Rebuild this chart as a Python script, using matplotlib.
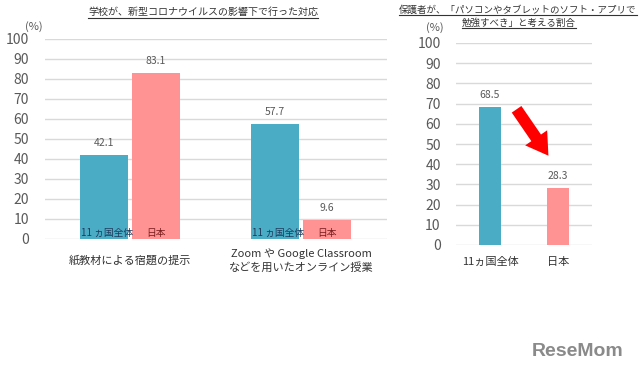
import matplotlib
matplotlib.use("Agg")
import matplotlib.pyplot as plt
from matplotlib.lines import Line2D
from matplotlib.patches import FancyArrowPatch

plt.rcParams['font.family'] = ['Noto Sans CJK JP', 'DejaVu Sans']

# ---- data ----
left_title = "学校が、新型コロナウイルスの影響下で行った対応"
left_categories = ["紙教材による宿題の提示", "Zoom や Google Classroom\nなどを用いたオンライン授業"]
left_all = [42.1, 57.7]
left_japan = [83.1, 9.6]
left_series_names = ["11 ヵ国全体", "日本"]

right_title_lines = ["保護者が、「パソコンやタブレットのソフト・アプリで", "勉強すべき」と考える割合"]
right_categories = ["11ヵ国全体", "日本"]
right_values = [68.5, 28.3]

yticks = [0, 10, 20, 30, 40, 50, 60, 70, 80, 90, 100]

BLUE = "#4BACC6"
PINK = "#FF9393"
GRID = "#D9D9D9"
TICK = "#595959"

W, H = 640, 375
fig = plt.figure(figsize=(6.4, 3.75), dpi=100)
fig.patch.set_facecolor("white")


def px_axes(x0, x1, y_bottom, y_top):
    return fig.add_axes([x0 / W, (H - y_bottom) / H, (x1 - x0) / W, (y_bottom - y_top) / H])


def style(ax, pad):
    ax.set_ylim(0, 100)
    ax.set_yticks(yticks)
    ax.tick_params(axis='y', length=0, labelsize=10, labelcolor=TICK, pad=pad)
    ax.tick_params(axis='x', length=0)
    for s in ax.spines.values():
        s.set_visible(False)
    ax.grid(axis='y', color=GRID, linewidth=1)
    ax.set_axisbelow(True)
    ax.set_xlim(-0.5, 1.5)


# ---- left chart ----
axL = px_axes(44.5, 386.5, 239, 39)
style(axL, 11)
bw = 0.28
off = 0.152
xs = list(range(len(left_categories)))
axL.bar([x - off for x in xs], left_all, width=bw, color=BLUE)
axL.bar([x + off for x in xs], left_japan, width=bw, color=PINK)
for x, v in zip(xs, left_all):
    axL.text(x - off, v + 3.5, f"{v}", ha='center', va='bottom', fontsize=7.5, color=TICK)
    axL.text(x - off - bw / 2 + 0.005, 3, left_series_names[0], ha='left', va='center',
             fontsize=7, color="#1F3B5C")
for x, v in zip(xs, left_japan):
    axL.text(x + off, v + 3.5, f"{v}", ha='center', va='bottom', fontsize=7.5, color=TICK)
    axL.text(x + off, 3, left_series_names[1], ha='center', va='center',
             fontsize=7, color="#7A1E1E")
axL.set_xticks(xs)
axL.set_xticklabels(left_categories, fontsize=8, color="#333333", linespacing=1.25, va='center')
axL.tick_params(axis='x', pad=15.5)
fig.text(34 / W, 1 - 27 / H, "(%)", ha='center', va='center', fontsize=8, color=TICK)

# ---- right chart ----
axR = px_axes(456, 592, 245, 43)
style(axR, 11)
xr = list(range(len(right_categories)))
axR.bar(xr, right_values, width=0.31, color=[BLUE, PINK])
for x, v in zip(xr, right_values):
    axR.text(x, v + 3.5, f"{v}", ha='center', va='bottom', fontsize=7.5, color=TICK)
axR.set_xticks(xr)
axR.set_xticklabels(right_categories, fontsize=8, color="#333333", va='center')
axR.tick_params(axis='x', pad=12)
fig.text(435 / W, 1 - 28 / H, "(%)", ha='center', va='center', fontsize=8, color=TICK)

# arrow
arrow = FancyArrowPatch((515 / W, 1 - 107 / H), (550 / W, 1 - 158 / H),
                        transform=fig.transFigure,
                        arrowstyle="simple,head_width=1.6,head_length=1.3,tail_width=0.7",
                        mutation_scale=12, color="#FF0000", lw=0)
fig.patches.append(arrow)

# ---- titles with underline ----
titles = [
    (left_title, 203, 12, 7.2),
    (right_title_lines[0], 518, 10, 6.8),
    (right_title_lines[1], 519, 23, 6.8),
]
text_objs = []
for s, x, y, fs in titles:
    t = fig.text(x / W, 1 - y / H, s, ha='center', va='center', fontsize=fs, color="#333333")
    text_objs.append(t)

fig.canvas.draw()
r = fig.canvas.get_renderer()
for t in text_objs:
    bb = t.get_window_extent(renderer=r)
    yline = (bb.y0 - 0.5) / H
    fig.lines.append(Line2D([bb.x0 / W, bb.x1 / W], [yline, yline], transform=fig.transFigure,
                            color="#333333", lw=0.8))

# watermark
fig.text(578 / W, 1 - 352 / H, "ReseMom", ha='center', va='center', fontsize=14,
         fontweight='bold', family=['Liberation Sans', 'DejaVu Sans'], color="#8A8A8A")

fig.savefig("out.png", dpi=100)
